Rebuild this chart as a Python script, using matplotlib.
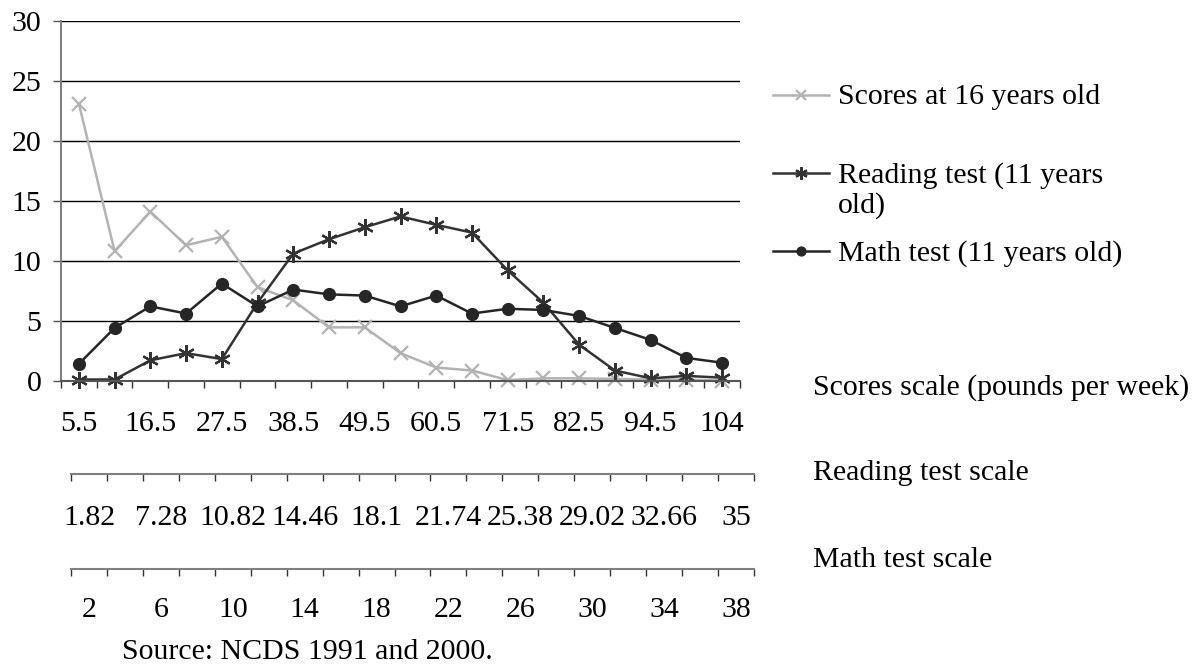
#Importing needed libraries
import numpy as np
import matplotlib
matplotlib.use('Agg')
import matplotlib.pyplot as plt
from matplotlib.lines import Line2D

plt.rcParams['font.family'] = ['Liberation Serif', 'DejaVu Serif']
plt.rcParams['font.size'] = 21.5

#Values (percent in each band)
scores = [23.1, 10.8, 14.1, 11.3, 12.0, 7.8, 6.7, 4.45, 4.45, 2.3, 1.1, 0.85,
          0.05, 0.2, 0.2, 0.15, 0.1, 0.1, 0.0]
reading = [0.1, 0.1, 1.7, 2.3, 1.8, 6.5, 10.6, 11.8, 12.8, 13.7, 13.0, 12.35,
           9.2, 6.5, 3.0, 0.85, 0.2, 0.4, 0.25]
math = [1.4, 4.4, 6.2, 5.6, 8.1, 6.2, 7.6, 7.2, 7.1, 6.2, 7.1, 5.6,
        6.0, 5.9, 5.4, 4.4, 3.4, 1.9, 1.5]

#Tick labels for the three scales (every other band is labelled)
scores_labels = ['5.5', '16.5', '27.5', '38.5', '49.5', '60.5', '71.5', '82.5', '94.5', '104']
reading_labels = ['1.82', '7.28', '10.82', '14.46', '18.1', '21.74', '25.38', '29.02', '32.66', '35']
math_labels = ['2', '6', '10', '14', '18', '22', '26', '30', '34', '38']

series_names = ['Scores at 16 years old', 'Reading test (11 years\nold)', 'Math test (11 years old)']
scale_names = ['Scores scale (pounds per week)', 'Reading test scale', 'Math test scale']

W, H = 1193, 666
n = len(scores)
x = np.arange(n)

fig = plt.figure(figsize=(W / 100, H / 100), dpi=100)

#Main chart area
ax = fig.add_axes([61 / W, 1 - 380.7 / H, 679 / W, 359.7 / H])
ax.set_xlim(-0.5, n - 0.5)
ax.set_ylim(0, 30)
ax.set_yticks(range(0, 31, 5))
ax.grid(axis='y', color='black', lw=1)
ax.set_axisbelow(True)
for s in ['top', 'right']:
    ax.spines[s].set_visible(False)
ax.spines['left'].set_color('#808080')
ax.spines['left'].set_linewidth(1.5)
ax.spines['bottom'].set_color('#555555')
ax.spines['bottom'].set_linewidth(1.5)
ax.tick_params(axis='y', length=6, width=1, color='#555555', pad=8)

#category boundaries get ticks, centers get the labels
def style_x(a, labels, pad):
    a.set_xticks(np.arange(-0.5, n, 1))
    a.set_xticklabels([])
    a.set_xticks(x[::2], minor=True)
    a.set_xticklabels(labels, minor=True)
    a.tick_params(axis='x', which='major', length=5, width=1, color='#333333')
    a.tick_params(axis='x', which='minor', length=0, pad=pad)

style_x(ax, scores_labels, 22)

styles = [dict(color='#b3b3b3', marker='x', ms=10, mew=1.6),
          dict(color='#333333', marker=(6, 2, 0), ms=12, mew=1.6),
          dict(color='#262626', marker='o', ms=8.5, mew=1)]
for vals, st in zip([scores, reading, math], styles):
    ax.plot(x, vals, lw=1.8, clip_on=False, **st)

#Extra scales below the chart
for y_line, labels, pad in [(474, reading_labels, 22), (569, math_labels, 20)]:
    a = fig.add_axes([71 / W, 1 - y_line / H, 683 / W, 1e-4])
    a.set_xlim(-0.5, n - 0.5)
    a.patch.set_visible(False)
    for s in ['top', 'right', 'left']:
        a.spines[s].set_visible(False)
    a.spines['bottom'].set_color('#808080')
    a.spines['bottom'].set_linewidth(1.5)
    a.set_yticks([])
    style_x(a, labels, pad)

#Legend drawn by hand to match the layout
leg_y = [95, 173, 251]
for name, st, yy in zip(series_names, styles, leg_y):
    fy = 1 - yy / H
    fig.add_artist(Line2D([773 / W, 801 / W, 829 / W], [fy, fy, fy], transform=fig.transFigure,
                          lw=1.8, markevery=[1], **{**st, 'ms': st['ms'] * 0.75}))
    fig.text(838 / W, 1 - (yy - 11) / H, name, va='top', ha='left', linespacing=1.15)

#Scale names on the right
for name, yy in zip(scale_names, [388, 473, 560]):
    fig.text(813 / W, 1 - yy / H, name, va='center', ha='left')

#Source note
fig.text(122 / W, 1 - 652 / H, 'Source: NCDS 1991 and 2000.', va='center', ha='left')

fig.savefig('out.png', dpi=100)
